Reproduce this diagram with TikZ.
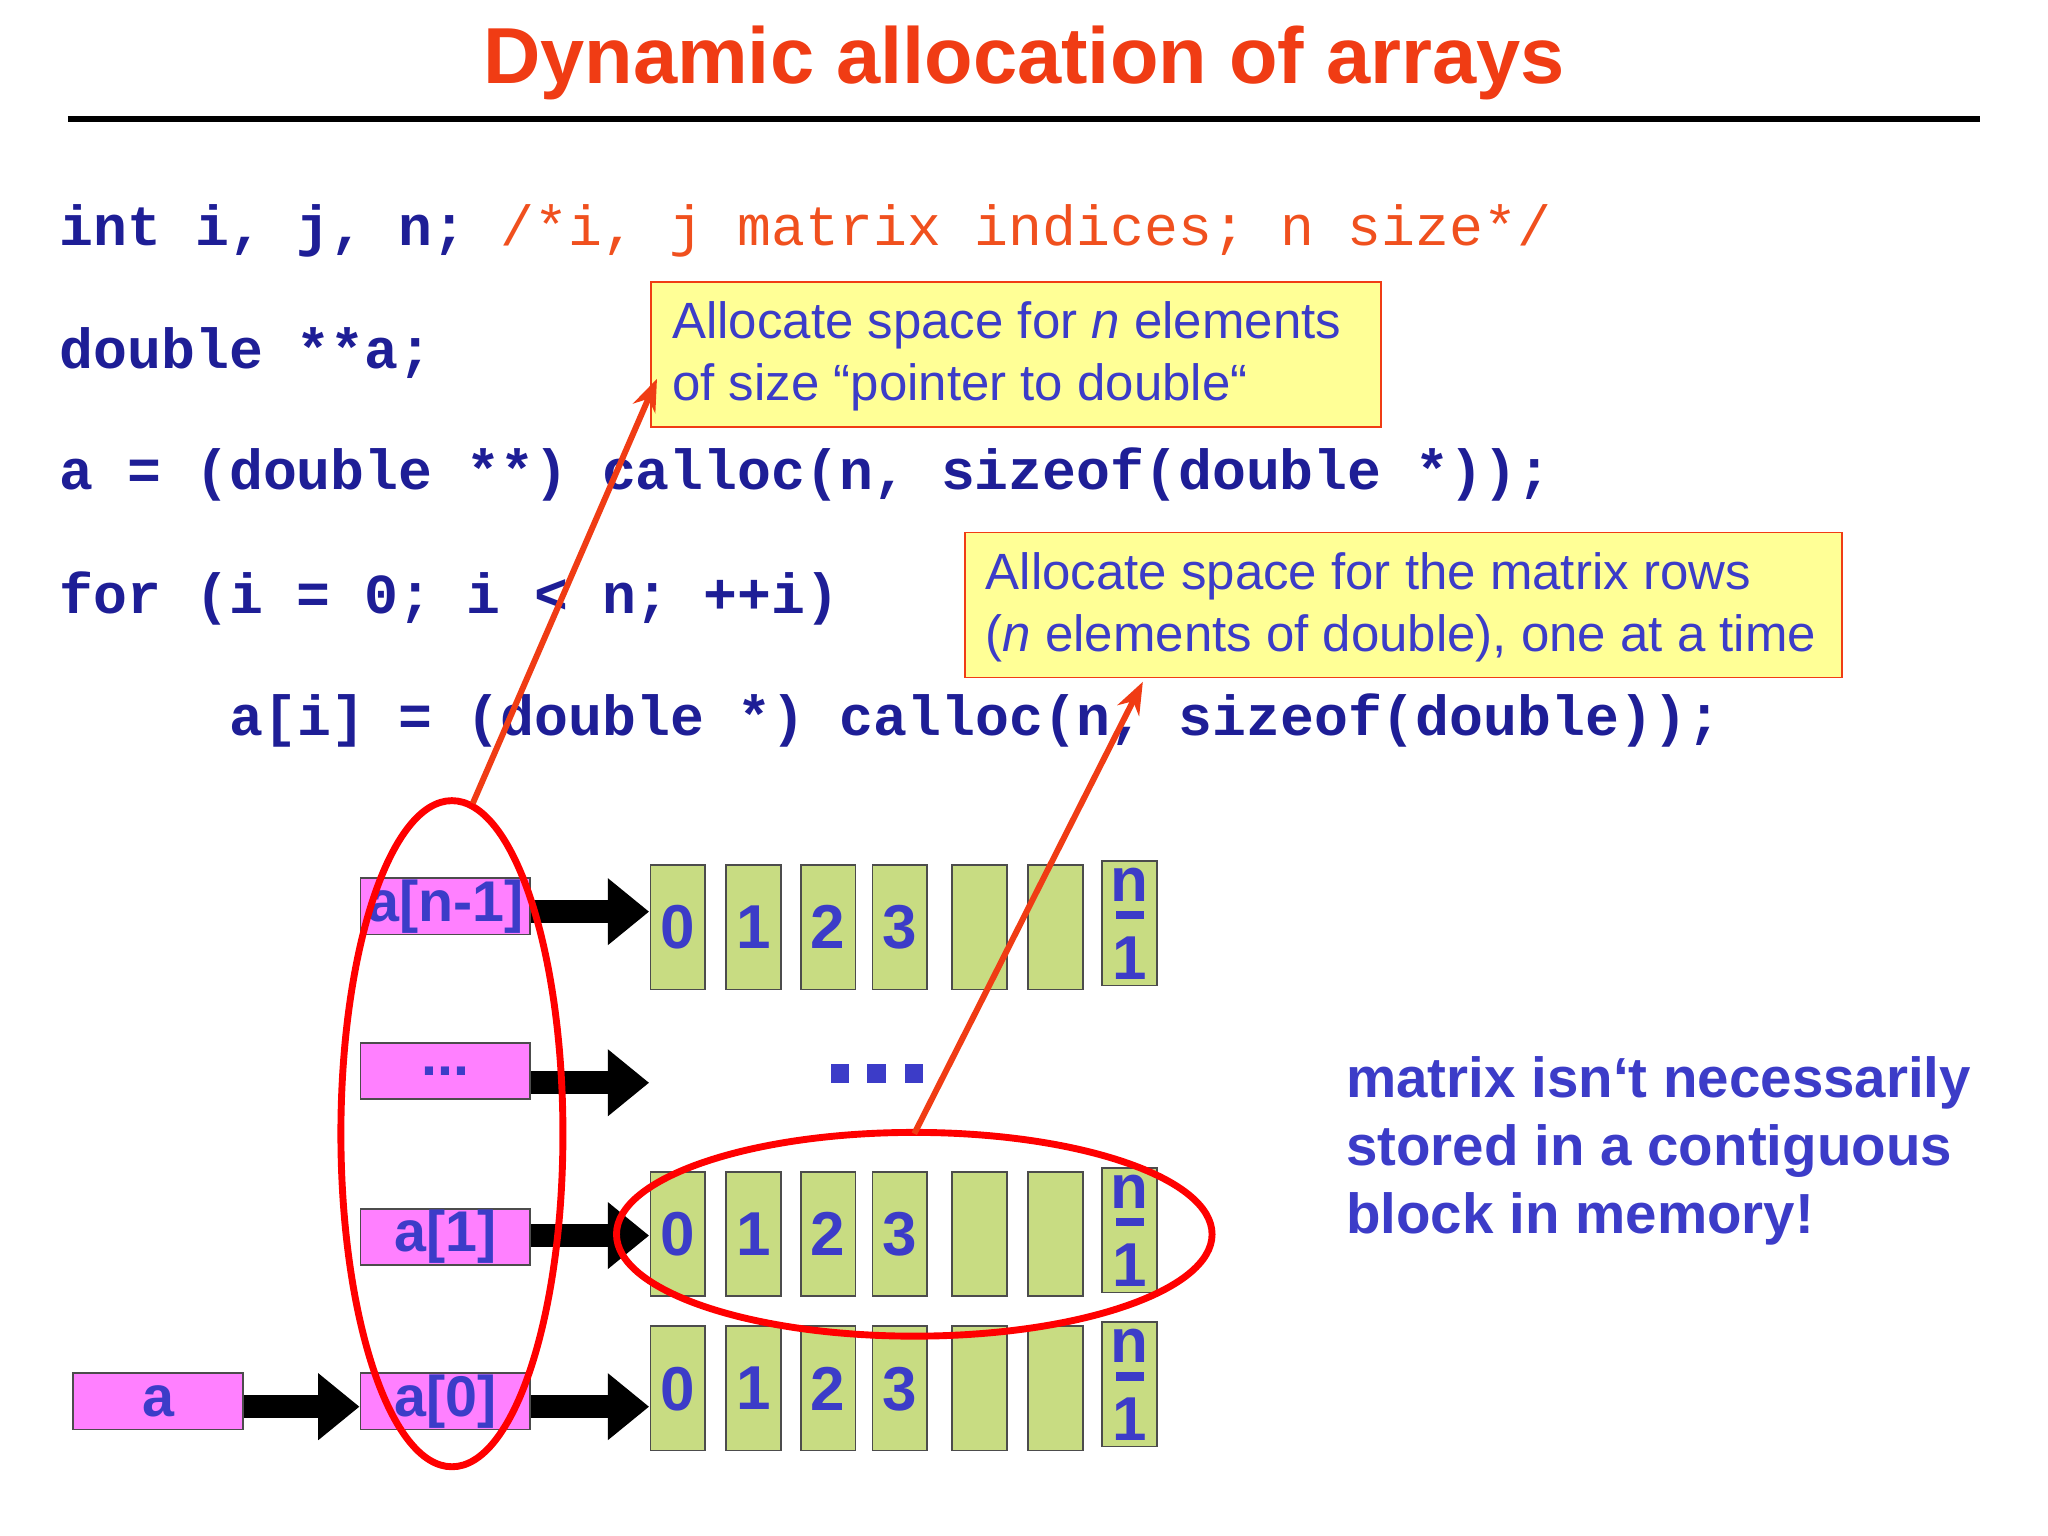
\documentclass[tikz,border=0pt]{standalone}
\usepackage{fontspec}
\setmainfont{Liberation Sans}
\newfontfamily\codefont{Liberation Mono}
\usetikzlibrary{arrows.meta}
\definecolor{titlec}{RGB}{240,60,20}
\definecolor{codec}{RGB}{30,30,150}
\definecolor{commc}{RGB}{240,80,30}
\definecolor{txtc}{RGB}{60,60,200}
\definecolor{pinkc}{RGB}{255,128,255}
\definecolor{cellc}{RGB}{200,220,130}
\definecolor{notec}{RGB}{255,255,150}
\tikzset{
 code/.style={anchor=west,inner sep=0,font=\codefont\fontsize{12.3}{12}\selectfont\bfseries,text=codec},
 pbox/.style={draw=black!70,fill=pinkc,minimum width=1.30cm,minimum height=0.43cm,inner sep=0,font=\fontsize{12.5}{13}\selectfont\bfseries,text=txtc},
 cell/.style={draw=black!70,fill=cellc,minimum width=0.42cm,minimum height=0.95cm,inner sep=0,font=\fontsize{13.5}{13}\selectfont\bfseries,text=txtc},
 note/.style={draw=titlec,fill=notec,anchor=north west,inner sep=0},
 fat/.style={line width=5pt,-{Triangle[length=9pt,width=14pt]}},
 org/.style={draw=titlec,line width=1.3pt,-{Stealth[length=7pt]}},
 ring/.style={draw=red,line width=1.5pt}
}
\begin{document}
\begin{tikzpicture}[x=0.01cm,y=-0.01cm]
\useasboundingbox[fill=white] (0,0) rectangle (1568,1176);
\node[text=titlec,font=\fontsize{17.3}{18}\selectfont\bfseries] (title) at (784,48) {Dynamic allocation of arrays};
\draw[line width=1.3pt] (52,91) -- (1516,91);
\node[code] (c1) at (45,177) {int i, j, n; \textcolor{commc}{\mdseries /*i, j matrix indices; n size*/}};
\node[code] (c2) at (45,270) {double **a;};
\node[code] (c3) at (45,363) {a = (double **) calloc(n, sizeof(double *));};
\node[code] (c4) at (45,458) {for (i = 0; i < n; ++i)};
\node[code] (c5) at (175,552) {a[i] = (double *) calloc(n, sizeof(double));};
\node[note,minimum width=5.58cm,minimum height=1.11cm] (n1) at (498,215) {};
\node[anchor=north west,align=left,text=txtc,font=\fontsize{11.1}{13.5}\selectfont,inner sep=0] (t1) at (514,230) {Allocate space for \textit{n} elements\\of size “pointer to double“};
\node[note,minimum width=6.71cm,minimum height=1.11cm] (n2) at (738,407) {};
\node[anchor=north west,align=left,text=txtc,font=\fontsize{11.1}{13.5}\selectfont,inner sep=0] (t2) at (754,422) {Allocate space for the matrix rows\\(\textit{n} elements of double), one at a time};
% cells
\foreach \r/\y in {A/707,B/942,C/1060}{
 \foreach \i/\x/\l in {0/519/0,1/577/1,2/634/2,3/689/3,4/750/,5/808/}{
  \node[cell,text depth=0pt,yshift=-0.03cm] (\r\i) at (\x,\y) {\l};}
 \node[cell,align=center,font=\fontsize{13.5}{11}\selectfont\bfseries] (\r6) at (865,\y) {n\\[-7pt]\rule{6pt}{1.8pt}\\[2pt]1};
}
\foreach \x in {643,671,700}{\fill[txtc] (\x-7,815) rectangle (\x+7,829);}
% pink boxes
\node[pbox] (an) at (341,694) {a[n-1]};
\node[pbox] (ad) at (341,820) {...};
\node[pbox] (a1) at (341,947) {a[1]};
\node[pbox] (a0) at (341,1073) {a[0]};
\node[pbox] (a) at (121,1073) {a};
\coordinate (eA) at (497,698);
\coordinate (eB) at (497,829);
\coordinate (eC) at (497,946);
\coordinate (eD) at (497,1077);
\draw[fat] (an.east|-eA) -- (eA);
\draw[fat] (ad.east|-eB) -- (eB);
\draw[fat] (a1.east|-eC) -- (eC);
\draw[fat] (a0.east|-eD) -- (eD);
\draw[fat] (a.east|-eD) -- (a0.west|-eD);
% rings
\draw[ring] (346,868) ellipse [x radius=85,y radius=255];
\draw[ring] (700,945) ellipse [x radius=228,y radius=78];
\coordinate (r1) at (362,615);
\coordinate (r2) at (700,868);
\draw[org] (r1) -- (503,290);
\draw[org] (r2) -- (875,522);
\node[anchor=north west,align=left,text=txtc,font=\fontsize{12.3}{14.8}\selectfont\bfseries,inner sep=0] (side) at (1030,808) {matrix isn‘t necessarily\\stored in a contiguous\\block in memory!};
\end{tikzpicture}
\end{document}
